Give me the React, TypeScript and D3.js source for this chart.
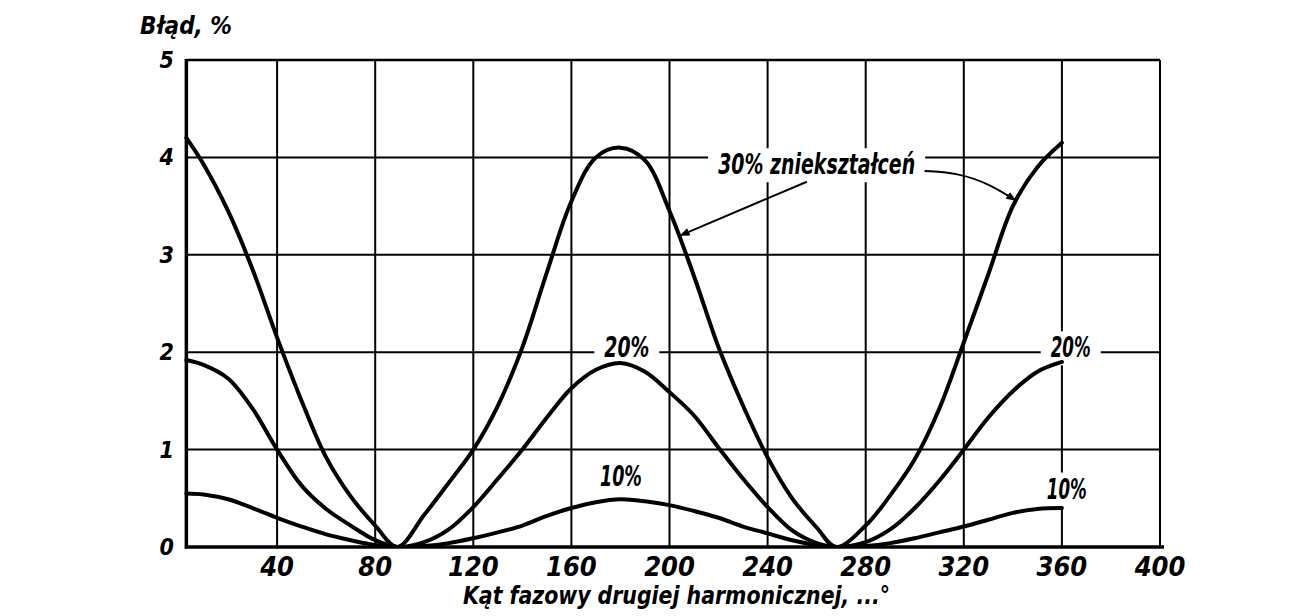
import React from "react";
import * as d3 from "d3";

const ANGLES = [3, 10, 20, 30, 40, 50, 60, 70, 80, 89, 100, 110, 120, 130, 140, 150, 160, 170, 180, 190, 200, 210, 220, 230, 240, 250, 260, 268, 280, 290, 300, 310, 320, 330, 340, 350, 360];
const ERR30 = [4.2, 3.93, 3.45, 2.85, 2.15, 1.5, 0.92, 0.52, 0.22, 0, 0.33, 0.66, 1.0, 1.45, 2.05, 2.82, 3.55, 4.0, 4.1, 3.97, 3.45, 2.78, 2.05, 1.45, 0.92, 0.5, 0.2, 0, 0.22, 0.53, 0.9, 1.42, 2.1, 2.8, 3.5, 3.9, 4.15];
const ERR20 = [1.92, 1.87, 1.73, 1.42, 1.0, 0.63, 0.39, 0.22, 0.07, 0, 0.05, 0.18, 0.41, 0.7, 1.0, 1.33, 1.63, 1.82, 1.89, 1.8, 1.59, 1.35, 1.02, 0.7, 0.41, 0.17, 0.04, 0, 0.05, 0.18, 0.4, 0.68, 1.0, 1.33, 1.6, 1.8, 1.9];
const ERR10 = [0.55, 0.54, 0.49, 0.4, 0.3, 0.21, 0.13, 0.07, 0.02, 0, 0.01, 0.04, 0.09, 0.15, 0.22, 0.32, 0.4, 0.46, 0.49, 0.47, 0.43, 0.37, 0.3, 0.21, 0.14, 0.07, 0.02, 0, 0.01, 0.04, 0.09, 0.15, 0.21, 0.28, 0.35, 0.39, 0.4];

const X_TICKS = [40, 80, 120, 160, 200, 240, 280, 320, 360, 400];
const Y_TICKS = [0, 1, 2, 3, 4, 5];
const X_START = 3;

const Y_TITLE = "Błąd, %";
const X_TITLE = "Kąt fazowy drugiej harmonicznej, ...°";

// annotation labels: text, angle, value
const LABELS: { text: string; x: number; y: number; len: number }[] = [
  { text: "30% zniekształceń", x: 260, y: 3.93, len: 197 },
  { text: "20%", x: 182.6, y: 2.05, len: 45 },
  { text: "20%", x: 363.6, y: 2.05, len: 40 },
  { text: "10%", x: 180.2, y: 0.73, len: 42 },
  { text: "10%", x: 362, y: 0.6, len: 40 },
];

const FONT = "'Liberation Sans Narrow', 'DejaVu Sans Condensed', 'Liberation Sans', sans-serif";

export default function App() {
  const W = 1316, H = 616;
  const x = d3.scaleLinear().domain([0, 400]).range([179, 1160]);
  const y = d3.scaleLinear().domain([0, 5]).range([547, 60]);

  const line = d3
    .line<number>()
    .x((_, i) => x(ANGLES[i]))
    .y((v) => y(v))
    .curve(d3.curveCatmullRom.alpha(0.5));

  const series = [ERR30, ERR20, ERR10];

  const arrow1 = d3.line()([
    [x(256), y(3.75)],
    [x(204.5), y(3.2)],
  ]);
  const arrow2 = d3.line().curve(d3.curveBasis)([
    [x(304), y(3.86)],
    [x(318), y(3.84)],
    [x(331), y(3.72)],
    [x(341), y(3.56)],
  ]);

  return (
    <svg
      width={W}
      height={H}
      style={{ position: "absolute", left: 0, top: 0, background: "#fff" }}
      fontFamily={FONT}
    >
      <defs>
        <marker id="ah" viewBox="0 0 10 10" refX="9" refY="5" markerWidth="5" markerHeight="5" orient="auto">
          <path d="M0,1 L10,5 L0,9 z" fill="#000" />
        </marker>
        <clipPath id="plot">
          <rect x={0} y={0} width={W} height={y(0)} />
        </clipPath>
      </defs>
      <rect width={W} height={H} fill="#fff" />
      <g stroke="#000" strokeWidth={2}>
        {X_TICKS.map((t) => (
          <line key={"vx" + t} x1={x(t)} x2={x(t)} y1={y(5)} y2={y(0)} />
        ))}
        {Y_TICKS.filter((t) => t > 0 && t < 5).map((t) => (
          <line key={"hy" + t} x1={x(X_START)} x2={x(400)} y1={y(t)} y2={y(t)} />
        ))}
        <line x1={x(X_START)} x2={x(400)} y1={y(5)} y2={y(5)} strokeWidth={2.5} />
      </g>
      {LABELS.map((l, i) => (
        <rect
          key={"bg" + i}
          x={x(l.x) - l.len / 2 - 10}
          y={y(l.y) - 16}
          width={l.len + 20}
          height={34}
          fill="#fff"
        />
      ))}
      <g clipPath="url(#plot)">
        {series.map((s, i) => (
          <path key={"s" + i} d={line(s) || ""} fill="none" stroke="#000" strokeWidth={4} strokeLinejoin="round" strokeLinecap="round" />
        ))}
      </g>
      <line x1={x(X_START)} x2={x(X_START)} y1={y(5) - 1} y2={y(0) + 1.5} stroke="#000" strokeWidth={3.5} />
      <line x1={x(X_START) - 1.5} x2={x(400) + 4} y1={y(0)} y2={y(0)} stroke="#000" strokeWidth={3.5} />
      <path d={arrow1 || ""} fill="none" stroke="#000" strokeWidth={2} markerEnd="url(#ah)" />
      <path d={arrow2 || ""} fill="none" stroke="#000" strokeWidth={2} markerEnd="url(#ah)" />
      {LABELS.map((l, i) => (
        <text
          key={"lb" + i}
          x={x(l.x)}
          y={y(l.y) + 10}
          textAnchor="middle"
          fontSize={28}
          fontStyle="italic"
          fontWeight="bold"
          textLength={l.len}
          lengthAdjust="spacingAndGlyphs"
        >
          {l.text}
        </text>
      ))}
      {X_TICKS.map((t) => (
        <text key={"xt" + t} x={x(t)} y={y(0) + 29} textAnchor="middle" fontSize={27} fontStyle="italic" fontWeight="bold">
          {t}
        </text>
      ))}
      {Y_TICKS.map((t) => (
        <text key={"yt" + t} x={174} y={y(t) + 8} textAnchor="end" fontSize={23} fontStyle="italic" fontWeight="bold">
          {t}
        </text>
      ))}
      <text x={140} y={34} fontSize={25} fontStyle="italic" fontWeight="bold" textLength={92} lengthAdjust="spacingAndGlyphs">
        {Y_TITLE}
      </text>
      <text x={463} y={604} fontSize={25} fontStyle="italic" fontWeight="bold" textLength={427} lengthAdjust="spacingAndGlyphs">
        {X_TITLE}
      </text>
    </svg>
  );
}
